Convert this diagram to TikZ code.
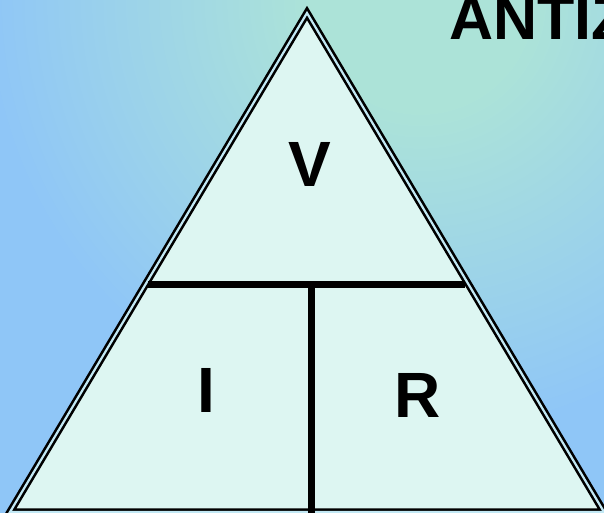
\documentclass[tikz,border=0pt]{standalone}
\usepackage{fontspec}
\setmainfont{Liberation Sans}
\definecolor{bgblue}{HTML}{8FC6F7}
\definecolor{bgteal}{HTML}{ACE3D8}
\definecolor{mint}{HTML}{DDF6F2}
\definecolor{gapc}{HTML}{C2E8F4}
\pgfdeclareradialshading{bgshade}{\pgfpoint{0bp}{0bp}}{color(0bp)=(bgteal); color(3.4bp)=(bgteal); color(13.6bp)=(bgblue); color(50bp)=(bgblue)}
\tikzset{
  frame/.style={line width=2.6pt, draw=black, double=gapc, double distance=2.2pt, fill=mint, line join=miter},
  divider/.style={line width=7pt, draw=black},
  letter/.style={font=\bfseries\fontsize{64}{64}\selectfont, anchor=base, inner sep=0pt},
  title/.style={font=\bfseries\fontsize{61}{61}\selectfont, anchor=base west, inner sep=0pt}
}
\begin{document}
\begin{tikzpicture}[x=1pt,y=-1pt]
\useasboundingbox (0,0) rectangle (604,513);
\clip (0,0) rectangle (604,513);
\fill[bgblue] (0,0) rectangle (604,513);
\shade[shading=bgshade] (420,0) circle (800);
\coordinate (apex) at (307,13);
\coordinate (bl) at (10,512);
\coordinate (br) at (604,512);
\draw[frame] (apex) -- (br) -- (bl) -- cycle;
\coordinate (hl) at (148,284.5);
\coordinate (hr) at (465,284.5);
\coordinate (vt) at (311.5,284.5);
\coordinate (vb) at (311.5,515);
\draw[divider] (hl) -- (hr);
\draw[divider] (vt) -- (vb);
\node[letter] (v) at (309.5,186) {V};
\node[letter] (i) at (206.5,412) {I};
\node[letter] (r) at (417.5,417) {R};
\node[title] (t) at (449,39.5) {ANTIZ};
\end{tikzpicture}
\end{document}
